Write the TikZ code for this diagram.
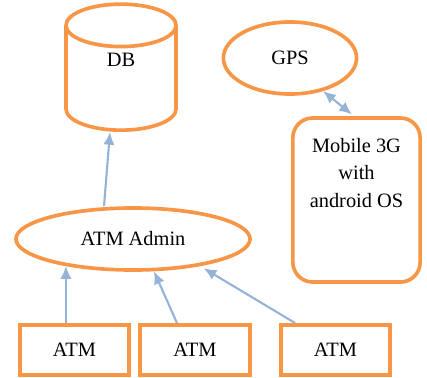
\documentclass[tikz,border=0pt]{standalone}
\usepackage{fontspec}
\setmainfont{Liberation Serif}
\usepackage{xcolor}
\usetikzlibrary{positioning,arrows.meta,shapes.geometric}
\definecolor{orange}{HTML}{F79646}
\definecolor{lightblue}{HTML}{95B3D7}

\begin{document}
\begin{tikzpicture}[
  x=0.025cm, y=-0.025cm,
  >={Latex[length=9pt,width=8pt]},
  every node/.style={font=\fontsize{14.5}{19.5}\selectfont,align=center,inner sep=2pt},
  store/.style={draw=orange,line width=2.6pt,cylinder,shape border rotate=90,aspect=1.25,
    minimum width=2.75cm,minimum height=3.15cm},
  oval/.style={draw=orange,line width=2.6pt,ellipse},
  device/.style={draw=orange,line width=2.6pt,rounded corners=14pt},
  atmbox/.style={draw=orange,line width=2.8pt,minimum width=2.73cm,minimum height=1.25cm},
  link/.style={->,draw=lightblue,line width=1.5pt}
]
\useasboundingbox (0,0) rectangle (427,377);
\node[store,anchor=south] (db) at (121,132) {\raisebox{0.55cm}[\height][\depth]{DB}};
\node[oval,minimum width=3.33cm,minimum height=1.8cm] (gps) at (290,58) {GPS};
\node[device,minimum width=3.18cm,minimum height=4.1cm,
  label={[anchor=north,yshift=-0.47cm]north:{Mobile 3G\\with\\android OS}}] (mob) at (356.5,200) {};
\node[oval,minimum width=5.85cm,minimum height=1.55cm] (admin) at (133,239) {ATM Admin};
\node[atmbox] (atm1) at (74.5,350) {ATM};
\node[atmbox] (atm2) at (195,350) {ATM};
\node[atmbox] (atm3) at (335.5,350) {ATM};
% terminals report to the admin
\draw[link] (atm1.north -| admin.202) -- (admin.202);
\draw[link] ([xshift=-0.45cm]atm2.north) -- (admin.303);
\draw[link,shorten >=3pt] ([xshift=-1.01cm]atm3.north) -- (admin.338);
\draw[link] ([xshift=-0.725cm]admin.north) -- ([xshift=-0.275cm]db.south);
\draw[link,<->,shorten <=2pt] ([xshift=-0.06cm]mob.north) -- (gps.315);
\end{tikzpicture}
\end{document}
